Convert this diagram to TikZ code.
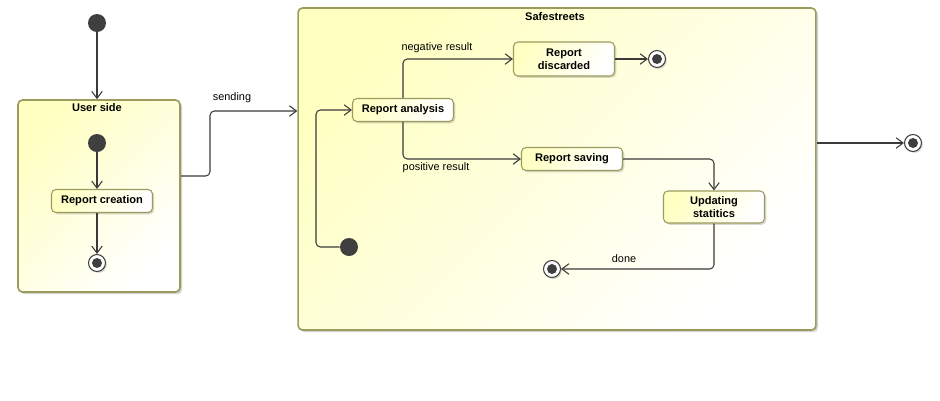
\documentclass[tikz,border=0pt]{standalone}
\usepackage{fontspec}
\setmainfont{Liberation Sans}
\usetikzlibrary{positioning,shadows,arrows.meta}
\definecolor{SSLine}{HTML}{9C9B5E}
\definecolor{SSYellow}{HTML}{FFFFC2}
\definecolor{SSDark}{HTML}{3F3F3F}
\definecolor{SSArrow}{HTML}{3A3A3A}

\tikzset{
  region/.style={draw=SSLine,line width=0.9pt,rounded corners=2.5pt,top color=SSYellow,bottom color=white,shading angle=45,drop shadow={opacity=0.35,shadow xshift=1.2pt,shadow yshift=-1.2pt}},
  statebox/.style={draw=SSLine,line width=0.6pt,rounded corners=2.5pt,top color=SSYellow,bottom color=white,shading angle=60,minimum width=2.02cm,align=center,inner sep=1pt,font=\fontsize{6.3}{7.2}\selectfont\bfseries,drop shadow={opacity=0.3,shadow xshift=1pt,shadow yshift=-1pt}},
  initstate/.style={circle,fill=SSDark,minimum size=0.36cm,inner sep=0pt},
  finalstate/.style={circle,draw=SSDark,line width=0.6pt,fill=white,minimum size=0.34cm,inner sep=0pt,path picture={\fill[SSDark] (path picture bounding box.center) circle (0.1cm);},drop shadow={opacity=0.3,shadow xshift=0.8pt,shadow yshift=-0.8pt}},
  flow/.style={draw=SSArrow,line width=0.6pt,rounded corners=2.5pt,-{Straight Barb[length=4pt,width=6pt]}},
  lbl/.style={font=\fontsize{6.2}{7}\selectfont,inner sep=0pt},
  ttl/.style={font=\fontsize{6.3}{7}\selectfont\bfseries,inner sep=0pt}
}

\begin{document}
\begin{tikzpicture}[x=0.02cm,y=-0.02cm]
\useasboundingbox (0,0) rectangle (940,400);
% regions
\node[region,minimum width=3.24cm,minimum height=3.84cm] (user) at (99,196) {};
\node[ttl] (usertitle) at (97,108) {User side};
\node[region,minimum width=10.36cm,minimum height=6.44cm] (safe) at (557,169) {};
\node[ttl] (safetitle) at (555,17) {Safestreets};
% user side
\node[initstate] (init0) at (97,23) {};
\node[initstate] (initU) at (97,143) {};
\node[statebox,minimum height=0.46cm] (creation) at (102,201) {Report creation};
\node[finalstate] (finU) at (97,263) {};
% safestreets
\node[initstate] (initS) at (349,247) {};
\node[statebox,minimum height=0.46cm] (analysis) at (403,110) {Report analysis};
\node[statebox,minimum height=0.68cm] (discarded) at (564,59) {Report\\discarded};
\node[finalstate] (finD) at (657,59) {};
\node[statebox,minimum height=0.46cm] (saving) at (572,159) {Report saving};
\node[statebox,minimum height=0.64cm] (updating) at (714,207) {Updating\\statitics};
\node[finalstate] (finS) at (552,269) {};
\node[finalstate] (finO) at (913,143) {};
% connectors
\draw[flow] (init0) -- (init0 |- user.north);
\draw[flow] (initU) -- (initU |- creation.north);
\draw[flow] (initU |- creation.south) -- (finU);
\draw[flow] (user.east |- 0,176) -- (210,176) -- (210,111) -- (safe.west |- 0,111);
\node[lbl] (sending) at (232,98) {sending};
\draw[flow] (initS) -- (316,247) -- (316,110) -- (analysis.west);
\draw[flow] (analysis.north) |- (discarded.west);
\node[lbl] (negative) at (437,48) {negative result};
\draw[flow] (analysis.south) |- (saving.west);
\node[lbl] (positive) at (436,168) {positive result};
\draw[flow] (discarded.east) -- (finD);
\draw[flow] (saving.east) -| (updating.north);
\draw[flow] (updating.south) |- (finS);
\node[lbl] (done) at (624,259) {done};
\draw[flow] (safe.east |- finO) -- (finO);
\end{tikzpicture}
\end{document}
